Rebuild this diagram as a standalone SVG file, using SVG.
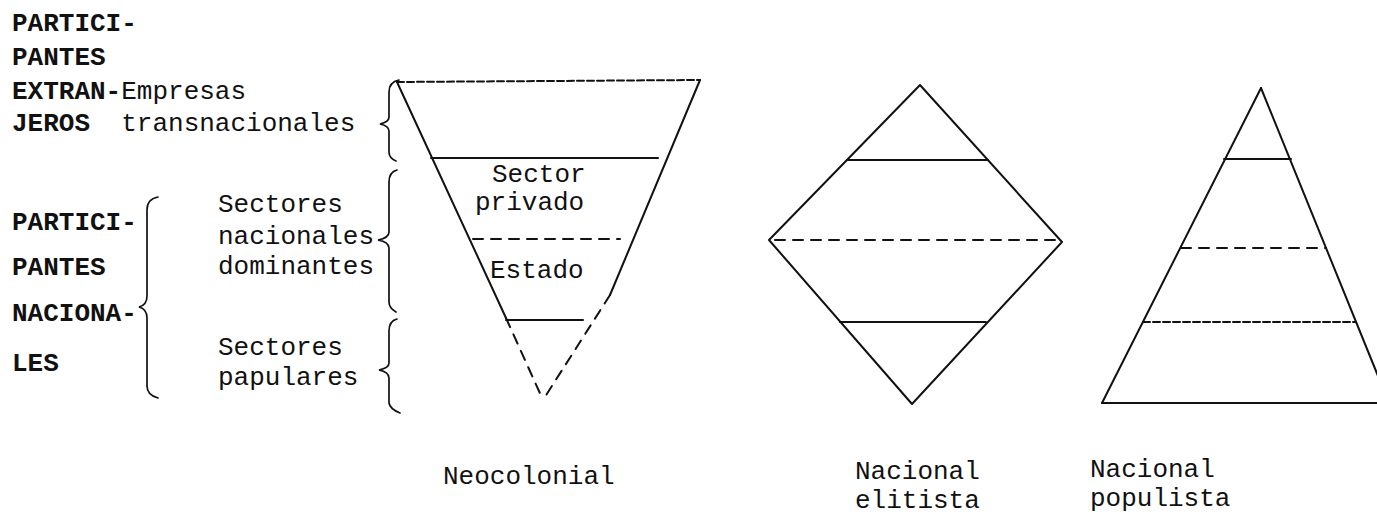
<svg xmlns="http://www.w3.org/2000/svg" width="1377" height="527" viewBox="0 0 1377 527">
<style>
text{font-family:"Liberation Mono","DejaVu Sans Mono",monospace;font-size:26px;fill:#111}
.cap{font-weight:bold}
.ln{stroke:#111;stroke-width:2;fill:none;stroke-linecap:round;stroke-linejoin:round}
.dash{stroke-dasharray:10 8}
.dot{stroke-dasharray:7 3}
.br{stroke:#111;stroke-width:1.7;fill:none;stroke-linecap:round}
</style>
<rect width="1377" height="527" fill="#fff"/>

<g id="labels-extranjeros">
<text class="cap" x="12" y="31">PARTICI-</text>
<text class="cap" x="12" y="65">PANTES</text>
<text x="12" y="99"><tspan class="cap">EXTRAN-</tspan>Empresas</text>
<text x="12" y="131" xml:space="preserve"><tspan class="cap">JEROS</tspan>  transnacionales</text>
</g>

<g id="labels-nacionales">
<text class="cap" x="12" y="230">PARTICI-</text>
<text class="cap" x="12" y="275">PANTES</text>
<text class="cap" x="12" y="321">NACIONA-</text>
<text class="cap" x="12" y="371">LES</text>
<path class="br" d="M158,197 Q147,199 147,210 L147,296 Q147,305 139,307 Q147,309 147,318 L147,386 Q147,395 158,398"/>
</g>

<g id="labels-sectores">
<text x="218" y="212">Sectores</text>
<text x="218" y="244">nacionales</text>
<text x="218" y="274">dominantes</text>
<text x="218" y="355">Sectores</text>
<text x="218" y="385">papulares</text>
</g>

<g id="braces-right">
<path class="br" d="M399,80 Q389,82 389,92 L389,117 Q389,122 380,124 Q389,126 389,131 L389,152 Q389,158 396,161"/>
<path class="br" d="M397,170 Q389,172 389,182 L389,232 Q389,238 378,240 Q389,242 389,248 L389,302 Q389,308 396,312"/>
<path class="br" d="M397,319 Q389,321 389,331 L389,363 Q389,368 379,370 Q389,372 389,378 L389,403 Q390,409 400,413"/>
</g>

<g id="neocolonial">
<line class="ln dot" x1="397" y1="82" x2="700" y2="80"/>
<line class="ln" x1="397" y1="82" x2="506" y2="318"/>
<line class="ln dash" x1="506" y1="318" x2="543" y2="400"/>
<line class="ln" x1="700" y1="80" x2="610" y2="295"/>
<line class="ln dash" x1="610" y1="295" x2="543" y2="400"/>
<line class="ln" x1="431" y1="158" x2="658" y2="158"/>
<line class="ln dash" x1="473" y1="239" x2="620" y2="239"/>
<line class="ln" x1="506" y1="320" x2="583" y2="320"/>
<text x="492" y="182">Sector</text>
<text x="475" y="210">privado</text>
<text x="490" y="278">Estado</text>
<text x="443" y="484">Neocolonial</text>
</g>

<g id="nacional-elitista">
<polygon class="ln" points="920,85 1062,242 912,404 769,240"/>
<line class="ln" x1="847" y1="160" x2="988" y2="160"/>
<line class="ln dash" x1="775" y1="240" x2="1058" y2="240"/>
<line class="ln" x1="840" y1="322" x2="986" y2="322"/>
<text x="855" y="479">Nacional</text>
<text x="855" y="508">elitista</text>
</g>

<g id="nacional-populista">
<line class="ln" x1="1261" y1="88" x2="1102" y2="403"/>
<line class="ln" x1="1261" y1="88" x2="1389" y2="403"/>
<line class="ln" x1="1102" y1="403" x2="1377" y2="403"/>
<line class="ln" x1="1224" y1="159" x2="1291" y2="159"/>
<line class="ln dash" x1="1181" y1="248" x2="1326" y2="248"/>
<line class="ln dot" x1="1143" y1="322" x2="1356" y2="322"/>
<text x="1090" y="477">Nacional</text>
<text x="1090" y="506">populista</text>
</g>
</svg>
